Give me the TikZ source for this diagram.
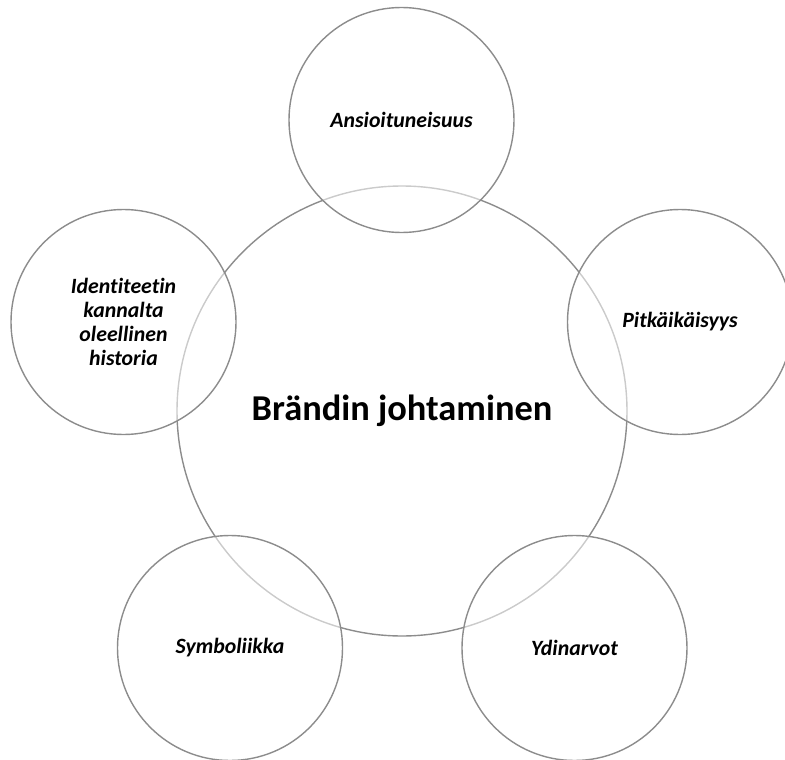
\documentclass[tikz,border=0pt]{standalone}
\usepackage{fontspec}
\setmainfont{Carlito}[Ligatures={NoCommon}]
\begin{document}
\begin{tikzpicture}[x=1pt,y=-1pt,
  ring/.style={circle, draw=black!45, line width=1.4pt, inner sep=0pt},
  big/.style={ring, minimum size=450pt, font=\bfseries\fontsize{36.4}{42}\selectfont},
  small/.style={ring, minimum size=225pt, fill=white, fill opacity=0.55, text opacity=1,
     align=center, font=\bfseries\itshape\fontsize{21.8}{23.8}\selectfont}]
\useasboundingbox (0,0) rectangle (785,760);
\clip (0,0) rectangle (785,760);
\node[big] (core) at (402,411) {Brändin johtaminen};
\node[small] (a) at (401.5,120) {Ansioituneisuus};
\node[small] (p) at (680,322) {Pitkäikäisyys};
\node[small] (i) at (123.5,322) {Identiteetin\\kannalta\\oleellinen\\historia};
\node[small] (s) at (230,648) {Symboliikka};
\node[small] (y) at (574.5,648) {Ydinarvot};
\end{tikzpicture}
\end{document}
